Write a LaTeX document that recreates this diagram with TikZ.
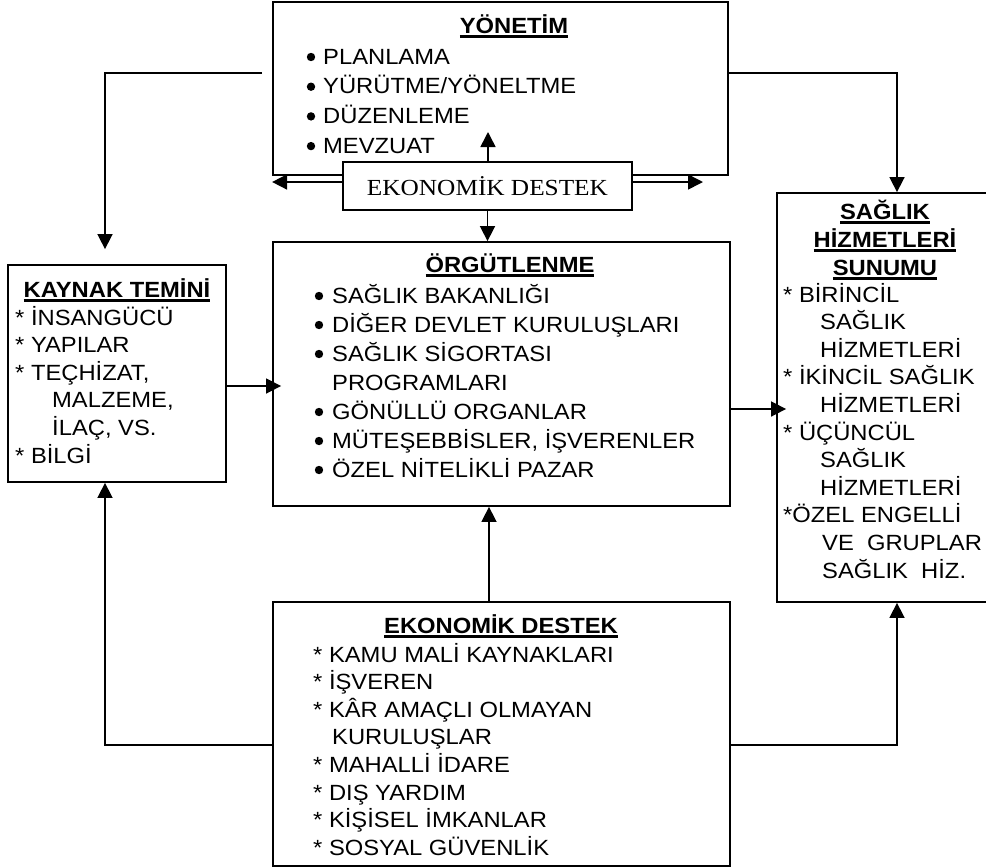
\documentclass[tikz,border=0pt]{standalone}
\usepackage{fontspec}
\setmainfont{Liberation Sans}[FakeStretch=1.08]
\newfontfamily\boxserif{Liberation Serif}[FakeStretch=1.1]
\usetikzlibrary{arrows.meta}

% bold title with a thick underline
\newcommand\boxtitle[1]{\sbox0{\bfseries #1}\rlap{\rule[-4.5pt]{\wd0}{2.2pt}}\usebox0}

\tikzset{
  box/.style={draw, line width=1.8pt, inner sep=0pt},
  txt/.style={anchor=base west, inner sep=0pt},
  ttl/.style={anchor=base, inner sep=0pt},
  link/.style={line width=1.6pt, -{Triangle[length=15pt,width=15pt]}}
}

\begin{document}
\begin{tikzpicture}[x=1pt, y=-1pt, every node/.style={font=\fontsize{22}{28}\selectfont}]
        \useasboundingbox (0,0) rectangle (986,868);

        % the box for Yonetim
        \node[box, minimum width=455pt, minimum height=173pt] (yon) at (500.5,88.5) {};
        \node[ttl] (yontitle) at (514,33) {\boxtitle{YÖNETİM}};
        \foreach \t [count=\i from 0] in {PLANLAMA, YÜRÜTME/YÖNELTME, DÜZENLEME, MEVZUAT}
        {
          \fill (311,64+\i*29.7-7) circle (4.2pt);
          \node[txt] (yon-\i) at (323,64+\i*29.7) {\t};
        }

        % the small box below Yonetim
        \node[box, fill=white, minimum width=289pt, minimum height=48pt,
              font=\boxserif\fontsize{23}{28}\selectfont] (eko) at (487.5,186) {EKONOMİK DESTEK};

        % the box for Kaynak temini
        \node[box, minimum width=218pt, minimum height=217pt] (kay) at (117,373.5) {};
        \node[ttl] (kaytitle) at (117,297) {\boxtitle{KAYNAK TEMİNİ}};
        \foreach \x/\t [count=\i from 0] in {15/* İNSANGÜCÜ, 15/* YAPILAR, {15/* TEÇHİZAT,},
            {52/MALZEME,}, {52/İLAÇ, VS.}, 15/* BİLGİ}
        \node[txt] (kay-\i) at (\x,325+\i*27.6) {\t};

        % the box for Orgutlenme
        \node[box, minimum width=457pt, minimum height=264pt] (org) at (501.5,374) {};
        \node[ttl] (orgtitle) at (510,272) {\boxtitle{ÖRGÜTLENME}};
        \foreach \i in {0,1,2,4,5,6}
        \fill (319,303+\i*29-7) circle (4.2pt);
        \foreach \t [count=\i from 0] in {SAĞLIK BAKANLIĞI, DİĞER DEVLET KURULUŞLARI, SAĞLIK SİGORTASI,
            PROGRAMLARI, GÖNÜLLÜ ORGANLAR, {MÜTEŞEBBİSLER, İŞVERENLER}, ÖZEL NİTELİKLİ PAZAR}
        \node[txt] (org-\i) at (332,303+\i*29) {\t};

        % the box for Saglik hizmetleri sunumu (runs past the right edge)
        \node[box, minimum width=240pt, minimum height=409pt] (sag) at (897,397.5) {};
        \foreach \t [count=\i from 0] in {SAĞLIK, HİZMETLERİ, SUNUMU}
        \node[ttl] (sagtitle-\i) at (885,219+\i*28) {\boxtitle{\t}};
        \foreach \x/\t [count=\i from 0] in {783/* BİRİNCİL, 820/SAĞLIK, 820/HİZMETLERİ,
            783/* İKİNCİL SAĞLIK, 820/HİZMETLERİ, 783/* ÜÇÜNCÜL, 820/SAĞLIK, 820/HİZMETLERİ,
            783/*ÖZEL ENGELLİ, 822/VE\ \ GRUPLAR, 822/SAĞLIK\ \ HİZ.}
        \node[txt] (sag-\i) at (\x,302+\i*27.6) {\t};

        % the box for Ekonomik destek
        \node[box, minimum width=457pt, minimum height=264pt] (ekb) at (501.5,734) {};
        \node[ttl] (ekbtitle) at (501,633) {\boxtitle{EKONOMİK DESTEK}};
        \foreach \x/\t [count=\i from 0] in {313/* KAMU MALİ KAYNAKLARI, 313/* İŞVEREN,
            313/* KÂR AMAÇLI OLMAYAN, 332/KURULUŞLAR, 313/* MAHALLİ İDARE, 313/* DIŞ YARDIM,
            313/* KİŞİSEL İMKANLAR, 313/* SOSYAL GÜVENLİK}
        \node[txt] (ekb-\i) at (\x,662+\i*27.6) {\t};

        % free ends of the arrows from the small box
        \coordinate (yonup) at (488,132);
        \coordinate (ekoright) at (703,182);

        % arrows out of the small box
        \draw[link] (eko.north -| yonup) -- (yonup);
        \draw[link] (eko.south) -- (eko.south |- org.north);
        \draw[link] ([yshift=4pt]eko.west) -- ([yshift=4pt]eko.west -| yon.west);
        \draw[link] ([yshift=4pt]eko.east) -- (ekoright);

        % from Yonetim to the two side boxes
        \draw[link, shorten <=10pt, shorten >=15pt] ([yshift=15.5pt]yon.west) -| ([xshift=-12pt]kay.north);
        \draw[link] ([yshift=15.5pt]yon.east) -| (sag.north);

        % the row in the middle (the tips run into the boxes)
        \draw[link, shorten >=-9pt] ([yshift=-12.5pt]kay.east) -- ([yshift=-12.5pt]kay.east -| org.west);
        \draw[link, shorten >=-10pt] ([yshift=-35pt]org.east) -- ([yshift=-35pt]org.east -| sag.west);

        % from Ekonomik destek to the three boxes above
        \draw[link] ([xshift=-12.5pt]ekb.north) -- ([xshift=-12.5pt]ekb.north |- org.south);
        \draw[link] ([yshift=-11pt]ekb.west) -| ([xshift=-12pt]kay.south);
        \draw[link] ([yshift=-11pt]ekb.east) -| (sag.south);
\end{tikzpicture}
\end{document}
